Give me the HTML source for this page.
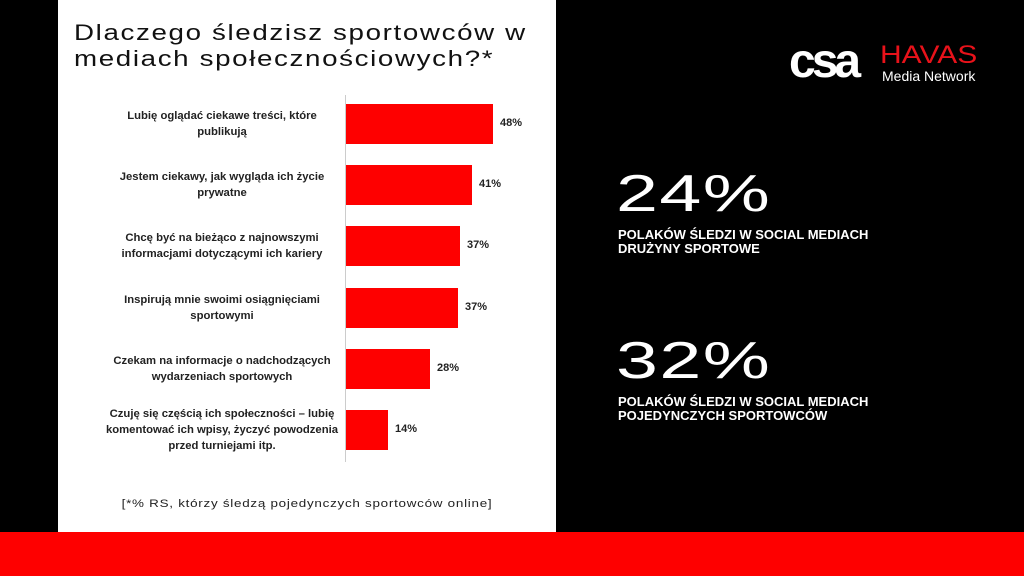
<!DOCTYPE html>
<html><head><meta charset="utf-8"><style>
body{margin:0;width:1024px;height:576px;background:#000;position:relative;overflow:hidden;font-family:"Liberation Sans",sans-serif}
.panel{position:absolute;left:58px;top:0;width:498px;height:532px;background:#fff}
.red{position:absolute;left:0;top:532px;width:1024px;height:44px;background:#fe0000}
.title{position:absolute;left:74px;top:20px;font-size:22px;line-height:26px;color:#111;letter-spacing:1.3px;transform:scaleX(1.26);transform-origin:left;white-space:nowrap}
.axis{position:absolute;left:345px;top:95px;width:1px;height:367px;background:#ccc}
.bar{position:absolute;left:346px;height:40px;background:#fe0000}
.lab{position:absolute;left:104px;width:236px;text-align:center;font-size:11.3px;font-weight:bold;color:#222;line-height:16px}
.val{position:absolute;font-size:11px;font-weight:bold;color:#222}
.foot{position:absolute;left:58px;width:498px;top:498px;text-align:center;font-size:11px;color:#222;letter-spacing:.6px;transform:scaleX(1.22)}
.big{position:absolute;left:616px;font-size:52px;color:#fff;transform:scaleX(1.45);transform-origin:left;font-weight:normal;letter-spacing:1px}
.sub{position:absolute;left:618px;font-size:13px;font-weight:bold;color:#fff;line-height:14px}
</style></head><body>
<div class="panel"></div>
<div class="red"></div>
<div class="title">Dlaczego śledzisz sportowców w<br>mediach społecznościowych?*</div>
<div class="axis"></div>

<div class="bar" style="top:104px;width:147px"></div>
<div class="bar" style="top:165px;width:126px"></div>
<div class="bar" style="top:226px;width:114px"></div>
<div class="bar" style="top:288px;width:112px"></div>
<div class="bar" style="top:349px;width:84px"></div>
<div class="bar" style="top:410px;width:42px"></div>

<div class="val" style="left:500px;top:117px">48%</div>
<div class="val" style="left:479px;top:178px">41%</div>
<div class="val" style="left:467px;top:239px">37%</div>
<div class="val" style="left:465px;top:301px">37%</div>
<div class="val" style="left:437px;top:362px">28%</div>
<div class="val" style="left:395px;top:423px">14%</div>

<div class="lab" style="top:108px">Lubię oglądać ciekawe treści, które<br>publikują</div>
<div class="lab" style="top:169px">Jestem ciekawy, jak wygląda ich życie<br>prywatne</div>
<div class="lab" style="top:230px">Chcę być na bieżąco z najnowszymi<br>informacjami dotyczącymi ich kariery</div>
<div class="lab" style="top:292px">Inspirują mnie swoimi osiągnięciami<br>sportowymi</div>
<div class="lab" style="top:353px">Czekam na informacje o nadchodzących<br>wydarzeniach sportowych</div>
<div class="lab" style="top:406px">Czuję się częścią ich społeczności – lubię<br>komentować ich wpisy, życzyć powodzenia<br>przed turniejami itp.</div>

<div class="foot">[*% RS, którzy śledzą pojedynczych sportowców online]</div>

<div style="position:absolute;left:789px;top:38px;font-size:48px;font-weight:bold;color:#fff;letter-spacing:-4px;line-height:48px">csa</div>
<div style="position:absolute;left:880px;top:42px;font-size:25px;color:#e8121a;line-height:26px;transform:scaleX(1.2);transform-origin:left">HAVAS</div>
<div style="position:absolute;left:882px;top:68px;font-size:14px;color:#fff">Media Network</div>

<div class="big" style="top:164px">24%</div>
<div class="sub" style="top:228px">POLAKÓW ŚLEDZI W SOCIAL MEDIACH<br>DRUŻYNY SPORTOWE</div>
<div class="big" style="top:331px">32%</div>
<div class="sub" style="top:395px">POLAKÓW ŚLEDZI W SOCIAL MEDIACH<br>POJEDYNCZYCH SPORTOWCÓW</div>
</body></html>
